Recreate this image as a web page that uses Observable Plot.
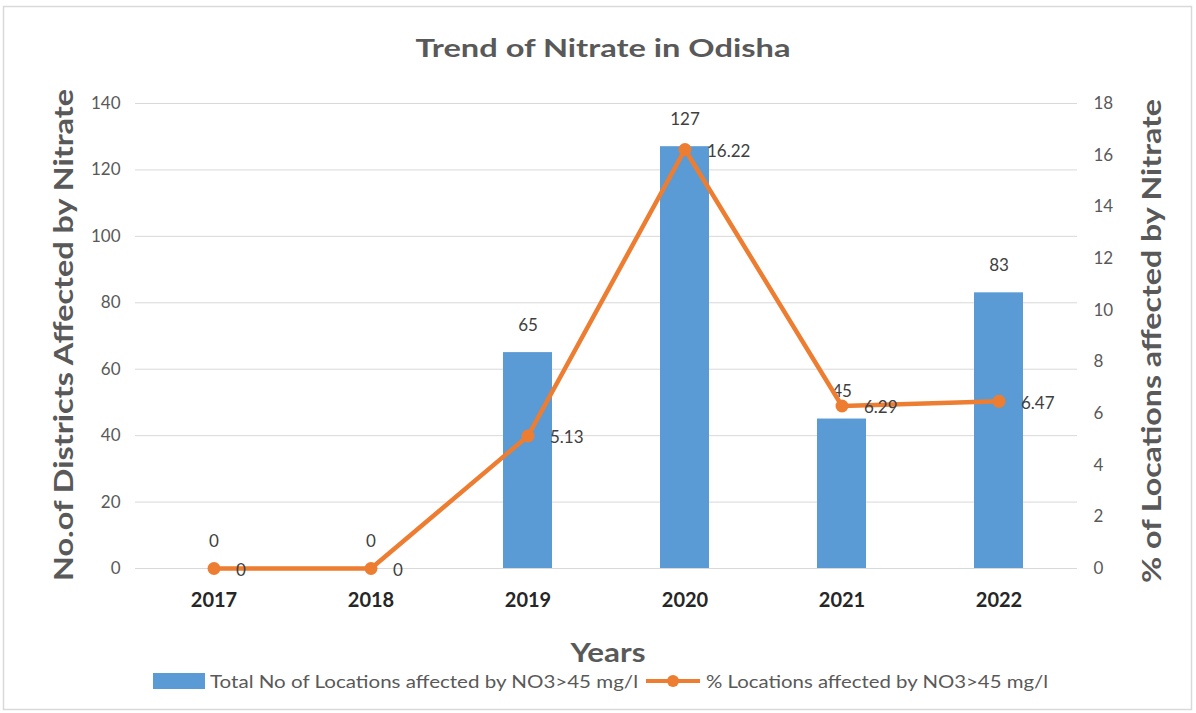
<!DOCTYPE html>
<html>
<head>
<meta charset="utf-8">
<script src="https://cdn.jsdelivr.net/npm/d3@7"></script>
<script src="https://cdn.jsdelivr.net/npm/@observablehq/plot@0.6"></script>
<style>
  html, body { margin: 0; padding: 0; background: #fff; }
  #chart { width: 1196px; height: 713px; }
  svg { display: block; }
</style>
</head>
<body>
<div id="chart"></div>
<script>
const years = ["2017", "2018", "2019", "2020", "2021", "2022"];
const locationCounts = [0, 0, 65, 127, 45, 83];
const percentAffected = [0, 0, 5.13, 16.22, 6.29, 6.47];
const leftTicks = [0, 20, 40, 60, 80, 100, 120, 140];
const rightTicks = [0, 2, 4, 6, 8, 10, 12, 14, 16, 18];
const leftMax = 140, rightMax = 18;

const titleText = "Trend of Nitrate in Odisha";
const leftTitle = "No.of Districts Affected by Nitrate";
const rightTitle = "% of Locations affected by Nitrate";
const xTitle = "Years";
const barLegend = "Total No of Locations affected by NO3>45 mg/l";
const lineLegend = "% Locations affected by NO3>45 mg/l";

const toLeft = v => v * leftMax / rightMax;
const rows = years.map((y, i) => ({year: y, count: locationCounts[i], pct: percentAffected[i], pctL: toLeft(percentAffected[i])}));

const BLUE = "#5B9BD5", ORANGE = "#ED7D31", GRAY = "#595959";
const FONT = "Lato, 'Open Sans', sans-serif";

const plot = Plot.plot({
  width: 1196,
  height: 713,
  marginTop: 103,
  marginBottom: 145,
  marginLeft: 135,
  marginRight: 119,
  style: {fontFamily: FONT, background: "#fff"},
  x: {domain: years, paddingInner: 0.69, paddingOuter: 0.345, label: null},
  y: {domain: [0, leftMax], label: null},
  marks: [
    Plot.gridY(leftTicks, {stroke: "#D9D9D9", strokeOpacity: 1, strokeWidth: 1}),
    Plot.axisY(leftTicks, {anchor: "left", tickSize: 0, tickPadding: 15, fontSize: 17, fill: GRAY, label: null}),
    Plot.axisY(rightTicks.map(toLeft), {anchor: "right", tickSize: 0, tickPadding: 16, fontSize: 17, fill: GRAY, label: null,
      tickFormat: d => String(Math.round(d * rightMax / leftMax))}),
    Plot.axisX({tickSize: 0, tickPadding: 24, fontSize: 20, fontWeight: "bold", fill: "#262626", label: null}),
    Plot.barY(rows, {x: "year", y: "count", fill: BLUE}),
    Plot.text(rows, {x: "year", y: "count", text: d => String(d.count), dy: -27, fontSize: 17, fill: "#404040"}),
    Plot.line(rows, {x: "year", y: "pctL", stroke: ORANGE, strokeWidth: 4.5, curve: "linear"}),
    Plot.dot(rows, {x: "year", y: "pctL", r: 6.5, fill: ORANGE, stroke: "none"}),
    Plot.text(rows, {x: "year", y: "pctL", text: d => String(d.pct), dx: 22, dy: 2, textAnchor: "start", fontSize: 17, fill: "#404040"})
  ]
});

document.getElementById("chart").appendChild(plot);

const svg = d3.select(plot);
svg.insert("rect", ":first-child")
  .attr("x", 3.5).attr("y", 6.5).attr("width", 1188).attr("height", 703)
  .attr("fill", "#fff").attr("stroke", "#D9D9D9").attr("stroke-width", 1.5);

const add = (txt, x, y, size, opts = {}) => {
  const t = svg.append("text")
    .attr("x", x).attr("y", y)
    .attr("text-anchor", opts.anchor || "middle")
    .attr("dominant-baseline", "central")
    .attr("font-family", FONT)
    .attr("font-size", size)
    .attr("font-weight", opts.weight || "normal")
    .attr("fill", opts.fill || GRAY)
    .text(txt);
  if (opts.rotate) t.attr("transform", `rotate(${opts.rotate},${x},${y})`);
  if (opts.len) t.attr("textLength", opts.len).attr("lengthAdjust", "spacingAndGlyphs");
  return t;
};

add(titleText, 603, 47, 25, {weight: "bold", len: 375});
add(leftTitle, 62, 335, 27, {weight: "bold", rotate: -90, len: 492});
add(rightTitle, 1150, 341, 27, {weight: "bold", rotate: -90, len: 484});
add(xTitle, 608, 651, 27, {weight: "bold", len: 75});

// legend
svg.append("rect").attr("x", 153).attr("y", 673).attr("width", 52).attr("height", 16).attr("fill", BLUE);
add(barLegend, 210, 681, 17, {anchor: "start", len: 428});
svg.append("line").attr("x1", 646).attr("x2", 700).attr("y1", 681).attr("y2", 681)
  .attr("stroke", ORANGE).attr("stroke-width", 4);
svg.append("circle").attr("cx", 673).attr("cy", 681).attr("r", 6).attr("fill", ORANGE);
add(lineLegend, 706, 681, 17, {anchor: "start", len: 342});
</script>
</body>
</html>
